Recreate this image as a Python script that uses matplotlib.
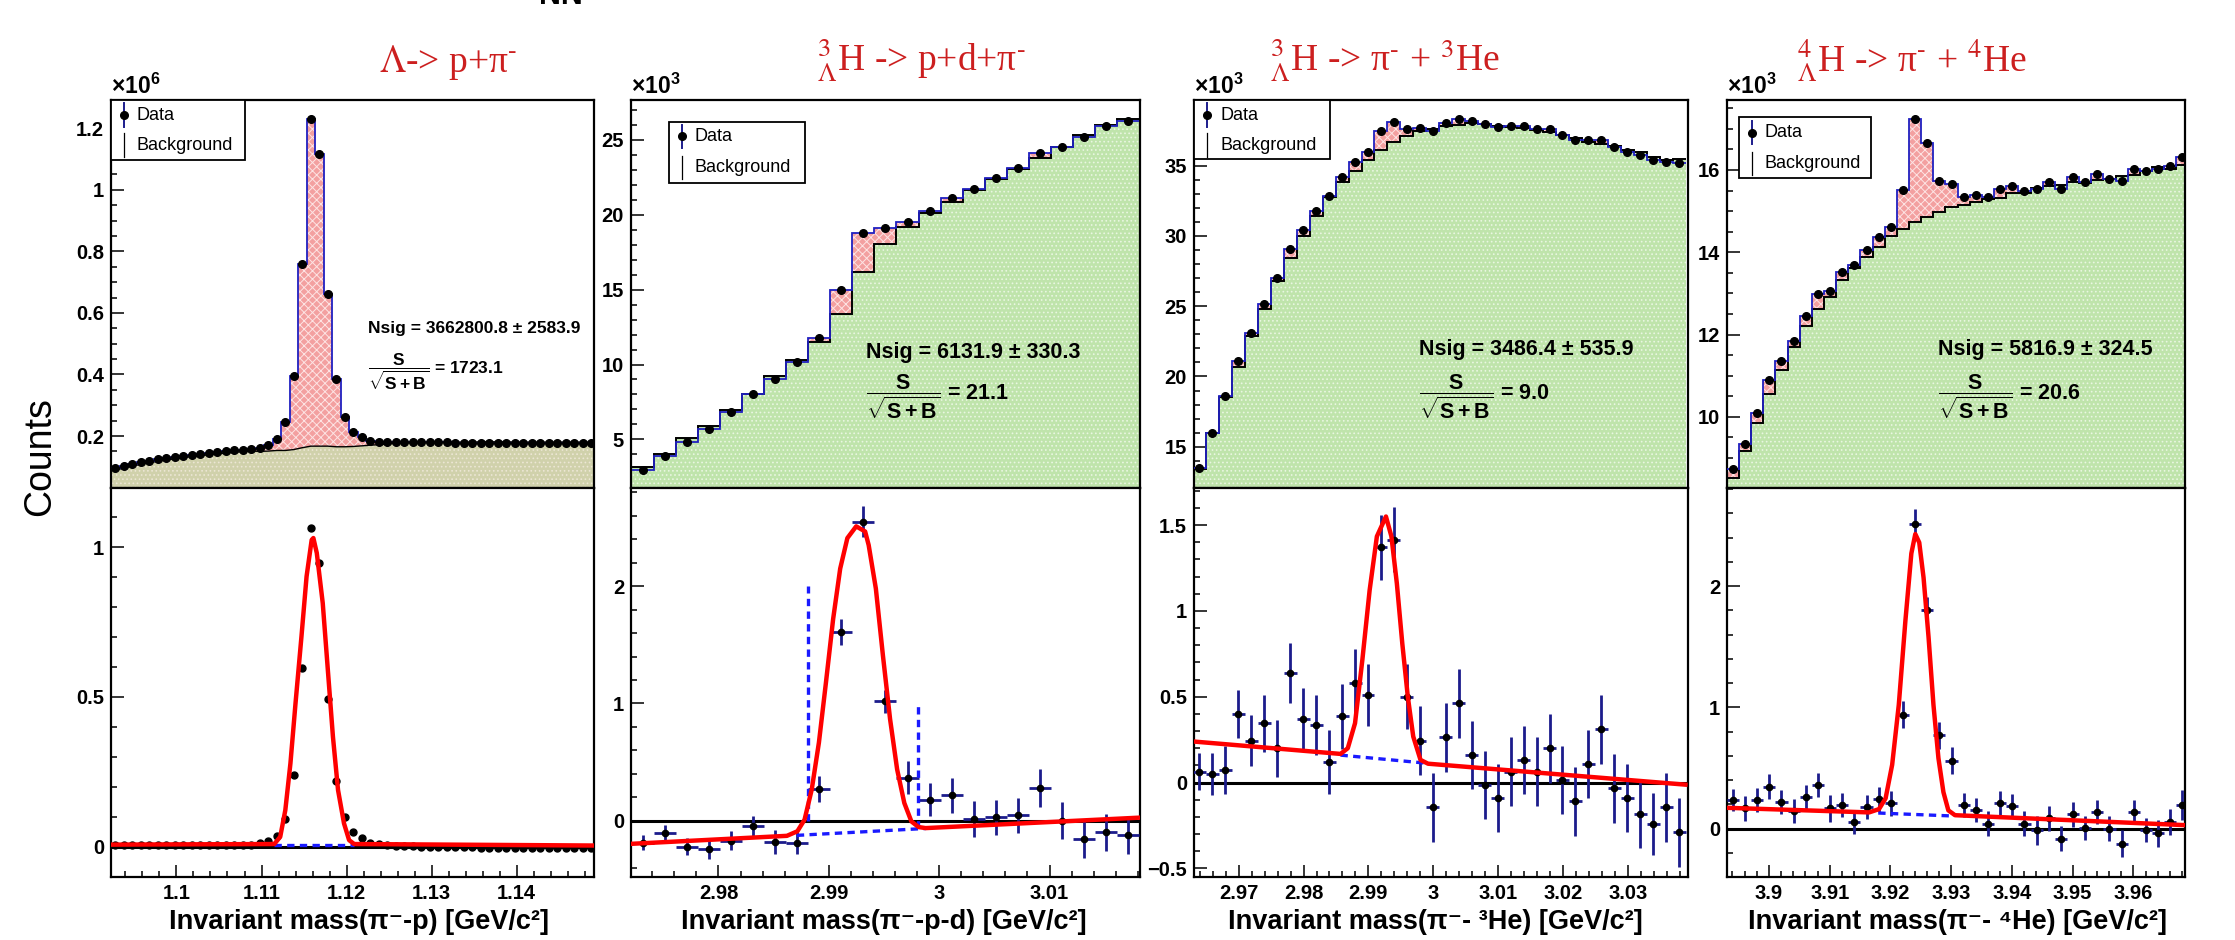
import numpy as np
import matplotlib
matplotlib.use("Agg")
import matplotlib.pyplot as plt
import matplotlib.transforms as mtransforms
from matplotlib.patches import Rectangle
from matplotlib.ticker import MultipleLocator

plt.rcParams['font.family'] = ['Liberation Sans', 'DejaVu Sans']
plt.rcParams['mathtext.fontset'] = 'custom'
plt.rcParams['mathtext.rm'] = 'Liberation Sans:bold'
plt.rcParams['mathtext.bf'] = 'Liberation Sans:bold'
plt.rcParams['mathtext.it'] = 'Liberation Sans:italic:bold'
plt.rcParams['mathtext.sf'] = 'Liberation Sans:bold'
plt.rcParams['hatch.linewidth'] = 0.7

# ---------------- data ----------------
# Lambda -> p + pi-   (counts x 1e6, 1 MeV bins)
lam_edge0, lam_bw = 1.0923, 0.001
lam_data = [0.095, 0.102, 0.108, 0.114, 0.119, 0.124, 0.128, 0.132, 0.136, 0.139,
            0.142, 0.145, 0.148, 0.150, 0.153, 0.155, 0.158, 0.161,
            0.170, 0.190, 0.244, 0.395, 0.758, 1.230, 1.115, 0.660, 0.384, 0.263,
            0.214, 0.196, 0.184, 0.181,
            0.180, 0.180, 0.180, 0.179, 0.179, 0.179, 0.179, 0.179, 0.178, 0.178,
            0.178, 0.178, 0.178, 0.178, 0.178, 0.177, 0.177, 0.177, 0.177, 0.177,
            0.177, 0.177, 0.177, 0.177, 0.177]
lam_sub = [0.006] * 16 + [0.007, 0.011, 0.019, 0.037, 0.091, 0.239, 0.596, 1.063, 0.948,
           0.493, 0.219, 0.098, 0.048, 0.028, 0.014, 0.009, 0.006, 0.004,
           0.002, 0.001, 0.000, 0.000, -0.001, -0.001, -0.002, -0.002, -0.002,
           -0.003, -0.003, -0.003, -0.003, -0.003, -0.003, -0.003, -0.003, -0.003,
           -0.003, -0.003, -0.003, -0.003, -0.003]
lam_fit_x = [1.0923, 1.1115, 1.1122, 1.1128, 1.1134, 1.1140, 1.1147, 1.1153, 1.1159,
             1.1161, 1.1165, 1.1172, 1.1178, 1.1184, 1.1190, 1.1197, 1.1203, 1.1209, 1.1491]
lam_fit_y = [0.007, 0.009, 0.033, 0.122, 0.278, 0.479, 0.702, 0.902, 1.024,
             1.030, 0.980, 0.813, 0.590, 0.367, 0.189, 0.078, 0.022, 0.009, 0.004]
lam_bkg_x = [1.1115, 1.1209]
lam_bkg_y = [0.005, 0.005]

# 3LH -> p + d + pi-   (counts x 1e3, 2 MeV bins)
h3b_edge0, h3b_bw = 2.97213, 0.002
h3b_data = [2.95, 3.89, 4.84, 5.67, 6.80, 8.00, 9.03, 10.14, 11.77, 14.98, 18.76, 19.10,
            19.54, 20.28, 21.10, 21.70, 22.44, 23.10, 24.10, 24.55, 25.20, 25.90, 26.30]
h3b_sub = [-0.186, -0.106, -0.220, -0.243, -0.171, -0.049, -0.183, -0.186, 0.271, 1.609,
           2.551, 1.017, 0.366, 0.180, 0.217, 0.014, 0.029, 0.046, 0.280, 0.000,
           -0.157, -0.100, -0.120]
h3b_err = [0.064, 0.07, 0.07, 0.08, 0.08, 0.09, 0.10, 0.10, 0.11, 0.11, 0.13, 0.10,
           0.14, 0.14, 0.15, 0.15, 0.15, 0.15, 0.16, 0.16, 0.16, 0.16, 0.16]
h3b_fit_x = [2.97213, 2.9862, 2.98715, 2.9878, 2.98845, 2.9891, 2.98974, 2.99039, 2.99103,
             2.99168, 2.99248, 2.99329, 2.99361, 2.99426, 2.9949, 2.99555, 2.99619,
             2.99684, 2.99748, 2.99813, 2.99877, 3.01813]
h3b_fit_y = [-0.197, -0.129, -0.09, 0.009, 0.266, 0.666, 1.18, 1.72, 2.15, 2.41, 2.51,
             2.466, 2.35, 1.98, 1.41, 0.866, 0.437, 0.151, -0.006, -0.054, -0.063, 0.026]
h3b_bkg_x = [2.9871, 2.9988]
h3b_bkg_y = [-0.125, -0.066]
h3b_win_x = [2.98808, 2.99808]
h3b_win_lo = [0.0, -0.064]
h3b_win_hi = [2.0, 1.0]

# 3LH -> pi- + 3He
h3_edge0, h3_bw = 2.96294, 0.002
h3_data = [13.46, 16.0, 18.6, 21.1, 23.1, 25.13, 26.98, 29.04, 30.4, 31.75,
           32.86, 34.2, 35.24, 35.95, 37.5, 38.13, 37.63, 37.7, 37.5, 38.06,
           38.35, 38.2, 37.94, 37.73, 37.82, 37.82, 37.59, 37.63, 37.18, 36.83,
           36.83, 36.83, 36.35, 36.0, 35.76, 35.4, 35.3, 35.2]
h3_sub = [0.064, 0.05, 0.074, 0.40, 0.245, 0.346, 0.20, 0.64, 0.373, 0.336,
          0.12, 0.385, 0.579, 0.509, 1.37, 1.414, 0.50, 0.245, -0.144, 0.264,
          0.462, 0.161, -0.014, -0.09, 0.064, 0.132, 0.064, 0.2, 0.016, -0.11,
          0.109, 0.31, -0.033, -0.09, -0.183, -0.24, -0.144, -0.29]
h3_err = [0.11, 0.12, 0.14, 0.14, 0.15, 0.165, 0.165, 0.175, 0.18, 0.175,
          0.185, 0.19, 0.2, 0.18, 0.19, 0.19, 0.19, 0.2, 0.2, 0.2,
          0.2, 0.2, 0.2, 0.2, 0.2, 0.2, 0.2, 0.2, 0.2, 0.2,
          0.2, 0.2, 0.2, 0.2, 0.2, 0.18, 0.2, 0.2]
h3_fit_x = [2.9631, 2.9857, 2.98682, 2.98794, 2.98907, 2.99019, 2.99131, 2.99271, 2.99355,
            2.99439, 2.99523, 2.99608, 2.99692, 2.99804, 2.9992, 3.0389]
h3_fit_y = [0.239, 0.167, 0.20, 0.346, 0.715, 1.12, 1.434, 1.55, 1.434,
            1.16, 0.81, 0.50, 0.268, 0.132, 0.11, -0.012]
h3_bkg_x = [2.9857, 2.9992]
h3_bkg_y = [0.160, 0.112]

# 4LH -> pi- + 4He
h4_edge0, h4_bw = 3.89307, 0.002
h4_data = [8.74, 9.34, 10.09, 10.9, 11.35, 11.84, 12.46, 12.99, 13.07, 13.51,
           13.68, 14.06, 14.36, 14.61, 15.51, 17.24, 16.66, 15.74, 15.66, 15.34,
           15.38, 15.34, 15.54, 15.62, 15.48, 15.54, 15.70, 15.54, 15.82, 15.70,
           15.89, 15.78, 15.74, 16.02, 15.97, 16.02, 16.09, 16.32]
h4_sub = [0.235, 0.166, 0.235, 0.346, 0.221, 0.144, 0.263, 0.36, 0.166, 0.194,
          0.055, 0.18, 0.24, 0.207, 0.94, 2.517, 1.80, 0.769, 0.559, 0.194,
          0.152, 0.041, 0.213, 0.185, 0.041, -0.014, 0.083, -0.083, 0.116, 0.006,
          0.138, 0.0, -0.124, 0.138, -0.014, -0.041, 0.055, 0.194]
h4_err = [0.09, 0.1, 0.1, 0.1, 0.1, 0.1, 0.1, 0.1, 0.11, 0.1,
          0.1, 0.1, 0.1, 0.1, 0.11, 0.12, 0.11, 0.11, 0.11, 0.1,
          0.1, 0.1, 0.1, 0.1, 0.1, 0.12, 0.1, 0.1, 0.1, 0.1,
          0.1, 0.1, 0.11, 0.1, 0.1, 0.11, 0.11, 0.12]
h4_fit_x = [3.8931, 3.91649, 3.91812, 3.91921, 3.92029, 3.92138, 3.92247, 3.92345, 3.9241,
            3.92475, 3.92546, 3.92628, 3.92709, 3.92791, 3.92873, 3.92954, 3.93063, 3.9685]
h4_fit_y = [0.171, 0.133, 0.16, 0.249, 0.526, 1.02, 1.715, 2.27, 2.43,
            2.36, 2.07, 1.58, 1.02, 0.58, 0.30, 0.15, 0.11, 0.028]
h4_bkg_x = [3.9180, 3.9300]
h4_bkg_y = [0.128, 0.104]

titles = [r'$\mathit{\Lambda}$-> p+π$^{\text{-}}$',
          r'${}^{3}_{\Lambda}$H -> p+d+π$^{\text{-}}$',
          r'${}^{3}_{\Lambda}$H -> π$^{\text{-}}$ + $^{3}$He',
          r'${}^{4}_{\Lambda}$H -> π$^{\text{-}}$ + $^{4}$He']
xtitles = ['Invariant mass(π⁻-p) [GeV/c²]', 'Invariant mass(π⁻-p-d) [GeV/c²]',
           'Invariant mass(π⁻- ³He) [GeV/c²]', 'Invariant mass(π⁻- ⁴He) [GeV/c²]']
multipliers = ['×10$^{6}$', '×10$^{3}$', '×10$^{3}$', '×10$^{3}$']
nsig_text = ['Nsig = 3662800.8 ± 2583.9', 'Nsig = 6131.9 ± 330.3',
             'Nsig = 3486.4 ± 535.9', 'Nsig = 5816.9 ± 324.5']
signif_text = ['1723.1', '21.1', '9.0', '20.6']

x_ticks = [[1.10, 1.11, 1.12, 1.13, 1.14], [2.98, 2.99, 3.00, 3.01],
           [2.97, 2.98, 2.99, 3.00, 3.01, 3.02, 3.03],
           [3.90, 3.91, 3.92, 3.93, 3.94, 3.95, 3.96]]
x_labels = [['1.1', '1.11', '1.12', '1.13', '1.14'], ['2.98', '2.99', '3', '3.01'],
            ['2.97', '2.98', '2.99', '3', '3.01', '3.02', '3.03'],
            ['3.9', '3.91', '3.92', '3.93', '3.94', '3.95', '3.96']]
top_ticks = [[0.2, 0.4, 0.6, 0.8, 1.0, 1.2], [5, 10, 15, 20, 25],
             [15, 20, 25, 30, 35], [10, 12, 14, 16]]
top_labels = [['0.2', '0.4', '0.6', '0.8', '1', '1.2'], ['5', '10', '15', '20', '25'],
              ['15', '20', '25', '30', '35'], ['10', '12', '14', '16']]
bot_ticks = [[0, 0.5, 1], [0, 1, 2], [-0.5, 0, 0.5, 1, 1.5], [0, 1, 2]]
bot_labels = [['0', '0.5', '1'], ['0', '1', '2'], ['−0.5', '0', '0.5', '1', '1.5'],
              ['0', '1', '2']]

# ---------------- layout / style ----------------
PINK, PINK_H = '#f3a0a0', '#fde4e4'
GREEN, GREEN_H = '#bfe4ab', '#e9f6e1'
TAN, TAN_H = '#d0d1ab', '#ece6d4'
NAVY = '#1c1c8c'
BLUE_OUT = '#2020c0'
RED_T = '#cc1f1f'

FW, FH = 2235.0, 940.0
TOP, MID, BOT = 100, 488, 877
cols = [(111, 594), (631, 1140), (1194, 1688), (1727, 2185)]

panels = [
    dict(edge0=lam_edge0, bw=lam_bw, data=lam_data, sub=lam_sub, err=None,
         fit=(lam_fit_x, lam_fit_y), bkg=(lam_bkg_x, lam_bkg_y), win=None,
         xlim=(1.0923, 1.1491), ytop=(0.031, 1.292), ybot=(-0.101, 1.197),
         yminor_top=0.05, yminor_bot=0.1, smooth=True,
         leg=((1.0923, 1.1080), (1.0, 0.845), 1.09384, 1.0953, (0.961, 0.884)),
         nsig=(1.1225, 0.412, 0.30, 12.5), title_x=1.1319, xt_x=1.1215),
    dict(edge0=h3b_edge0, bw=h3b_bw, data=h3b_data, sub=h3b_sub, err=h3b_err,
         fit=(h3b_fit_x, h3b_fit_y), bkg=(h3b_bkg_x, h3b_bkg_y),
         win=(h3b_win_x, h3b_win_lo, h3b_win_hi),
         xlim=(2.97207, 3.0182), ytop=(1.75, 27.67), ybot=(-0.48, 2.837),
         yminor_top=1, yminor_bot=0.2, smooth=False,
         leg=((2.97547, 2.98783), (0.944, 0.785), 2.97667, 2.9778, (0.906, 0.826)),
         nsig=(2.9934, 0.35, 0.235, 15.5), title_x=2.9984, xt_x=2.99495),
    dict(edge0=h3_edge0, bw=h3_bw, data=h3_data, sub=h3_sub, err=h3_err,
         fit=(h3_fit_x, h3_fit_y), bkg=(h3_bkg_x, h3_bkg_y), win=None,
         xlim=(2.9631, 3.0393), ytop=(12.06, 39.68), ybot=(-0.55, 1.716),
         yminor_top=1, yminor_bot=0.1, smooth=False,
         leg=((2.9631, 2.98413), (1.0, 0.847), 2.96507, 2.9672, (0.961, 0.884)),
         nsig=(2.99776, 0.356, 0.235, 15.5), title_x=2.9926, xt_x=3.0003),
    dict(edge0=h4_edge0, bw=h4_bw, data=h4_data, sub=h4_sub, err=h4_err,
         fit=(h4_fit_x, h4_fit_y), bkg=(h4_bkg_x, h4_bkg_y), win=None,
         xlim=(3.8931, 3.9685), ytop=(8.27, 17.70), ybot=(-0.40, 2.81),
         yminor_top=0.5, yminor_bot=0.2, smooth=False,
         leg=((3.8950, 3.91687), (0.957, 0.798), 3.89717, 3.89935, (0.916, 0.837)),
         nsig=(3.92791, 0.356, 0.235, 15.5), title_x=3.9235, xt_x=3.9310),
]

fig = plt.figure(figsize=(22.35, 9.40), dpi=100)


def axes_px(l, r, t, b):
    return fig.add_axes([l / FW, 1 - b / FH, (r - l) / FW, (b - t) / FH])


def style(ax):
    ax.tick_params(direction='in', which='both', top=False, right=False,
                   width=1.1, pad=5)
    ax.tick_params(which='major', length=9)
    ax.tick_params(which='minor', length=4.5)
    for s in ax.spines.values():
        s.set_linewidth(1.6)
    ax.xaxis.set_minor_locator(MultipleLocator(0.002))


for i, p in enumerate(panels):
    l, r = cols[i]
    axt = axes_px(l, r, TOP, MID)
    axb = axes_px(l, r, MID, BOT)
    edges = p['edge0'] + p['bw'] * np.arange(len(p['data']) + 1)
    centers = edges[:-1] + p['bw'] / 2
    data = np.array(p['data'])
    sub = np.array(p['sub'])
    bkg = data - sub

    # ---- upper panel: data with signal on top of background
    axt.set_xlim(*p['xlim'])
    axt.set_ylim(*p['ytop'])
    axt.fill_between(edges, 0, np.append(data, data[-1]), step='post',
                     facecolor=PINK, edgecolor=PINK_H, hatch='xxxx', lw=0, zorder=1)
    if p['smooth']:
        bx = np.concatenate([[edges[0]], centers, [edges[-1]]])
        by = np.concatenate([[bkg[0]], bkg, [bkg[-1]]])
        axt.fill_between(bx, 0, by, facecolor=TAN, edgecolor=TAN_H, hatch='....',
                         lw=0, zorder=2)
        axt.plot(bx, by, color='black', lw=1.0, zorder=3)
    else:
        axt.fill_between(edges, 0, np.append(bkg, bkg[-1]), step='post',
                         facecolor=GREEN, edgecolor=GREEN_H, hatch='....', lw=0, zorder=2)
        axt.stairs(bkg, edges, baseline=None, color='black', lw=1.4, zorder=3)
    axt.stairs(data, edges, baseline=None, color=BLUE_OUT, lw=1.3, zorder=4)
    axt.plot(centers, data, 'o', color='black', ms=5.5, zorder=5)

    style(axt)
    axt.set_xticks(x_ticks[i], labels=[])
    axt.set_yticks(top_ticks[i], labels=top_labels[i], fontsize=14.5, fontweight='bold')
    axt.yaxis.set_minor_locator(MultipleLocator(p['yminor_top']))
    axt.set_ylim(*p['ytop'])

    axt.text(0, 1.004, multipliers[i], transform=axt.transAxes, ha='left', va='bottom',
             fontsize=16.5, fontweight='bold')

    # legend box
    trans = mtransforms.blended_transform_factory(axt.transData, axt.transAxes)
    (lx0, lx1), (ly0, ly1), mkx, tx, rows = p['leg']
    axt.add_patch(Rectangle((lx0, ly1), lx1 - lx0, ly0 - ly1, transform=trans,
                            facecolor='white', edgecolor='black', lw=1.3, zorder=20))
    axt.plot([mkx, mkx], [rows[0] - 0.03, rows[0] + 0.03], transform=trans,
             color=NAVY, lw=1.4, zorder=21)
    axt.plot([mkx], [rows[0]], 'o', ms=5.5, color='black', transform=trans, zorder=22)
    axt.text(tx, rows[0], 'Data', transform=trans, fontsize=13, va='center', zorder=22)
    axt.plot([mkx, mkx], [rows[1] - 0.03, rows[1] + 0.03], transform=trans,
             color='black', lw=0.9, zorder=21)
    axt.text(tx, rows[1], 'Background', transform=trans, fontsize=13, va='center',
             zorder=22)

    # Nsig and significance
    nx, ny, fy, fs = p['nsig']
    axt.text(nx, ny, nsig_text[i], transform=trans, fontsize=fs, fontweight='bold',
             va='center', ha='left', zorder=22)
    axt.text(nx, fy, r'$\dfrac{\mathrm{S}}{\sqrt{\mathrm{S+B}}}$' + ' = ' + signif_text[i],
             transform=trans, fontsize=fs, fontweight='bold', va='center', ha='left',
             zorder=22)

    # title
    axt.text(p['title_x'], 1.072, titles[i], transform=trans, ha='center', va='baseline',
             fontsize=27, color=RED_T, family=['Liberation Serif', 'DejaVu Serif'],
             math_fontfamily='stix')

    # ---- lower panel: background subtracted
    axb.set_xlim(*p['xlim'])
    axb.set_ylim(*p['ybot'])
    axb.axhline(0, color='black', lw=2.2, zorder=2)
    if p['err'] is None:
        axb.plot(centers, sub, 'o', color='black', ms=5, zorder=3)
    else:
        axb.errorbar(centers, sub, yerr=p['err'], xerr=p['bw'] / 2, fmt='o', ms=4.5,
                     mfc='black', mec='black', ecolor=NAVY, elinewidth=2.0, capsize=0,
                     zorder=3)
    if p['win'] is not None:
        wx, wlo, whi = p['win']
        for xv, y0, y1 in zip(wx, wlo, whi):
            axb.plot([xv, xv], [y0, y1], color='#1a1aff', lw=2.4, dashes=(2.2, 1.6),
                     zorder=4)
    axb.plot(p['bkg'][0], p['bkg'][1], color='#1a1aff', lw=2.4, dashes=(2.2, 1.6),
             zorder=4)
    axb.plot(p['fit'][0], p['fit'][1], color='red', lw=3.2, zorder=5,
             solid_joinstyle='round')

    style(axb)
    axb.set_xticks(x_ticks[i], labels=x_labels[i], fontsize=14.5, fontweight='bold')
    axb.set_yticks(bot_ticks[i], labels=bot_labels[i], fontsize=14.5, fontweight='bold')
    axb.yaxis.set_minor_locator(MultipleLocator(p['yminor_bot']))
    axb.set_xlim(*p['xlim'])
    axb.set_ylim(*p['ybot'])

    transb = mtransforms.blended_transform_factory(axb.transData, axb.transAxes)
    axb.text(p['xt_x'], -0.116, xtitles[i], transform=transb, ha='center', va='center',
             fontsize=19.5, fontweight='bold')

fig.text(40 / FW, 1 - 457 / FH, 'Counts', rotation=90, ha='center', va='center',
         fontsize=27)
fig.text(561 / FW, 1 - 4 / FH, 'NN', ha='center', va='baseline', fontsize=22,
         fontweight='bold')

fig.savefig('out.png', dpi=100)
